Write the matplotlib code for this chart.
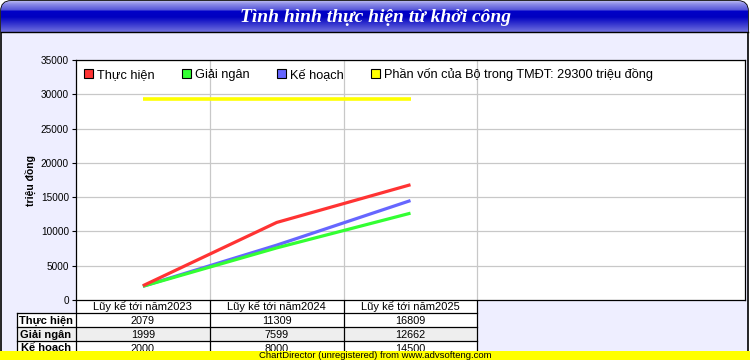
import numpy as np
import matplotlib
matplotlib.use("Agg")
import matplotlib.pyplot as plt
from matplotlib.patches import FancyBboxPatch, Rectangle, Patch
from matplotlib.colors import to_rgb

categories = ["Lũy kế tới năm2023", "Lũy kế tới năm2024", "Lũy kế tới năm2025"]
thuc_hien = [2079, 11309, 16809]
giai_ngan = [1999, 7599, 12662]
ke_hoach = [2000, 8000, 14500]
phan_von = [29300, 29300, 29300]
row_names = ["Thực hiện", "Giải ngân", "Kế hoạch"]
legend_von = "Phần vốn của Bộ trong TMĐT: 29300 triệu đồng"
title = "Tình hình thực hiện từ khởi công"
yticks = [0, 5000, 10000, 15000, 20000, 25000, 30000, 35000]

plt.rcParams['font.family'] = ['Liberation Sans', 'DejaVu Sans']

W, H = 750, 360
fig = plt.figure(figsize=(7.5, 3.6), dpi=100, facecolor="white")

# background canvas in pixel coords
bg = fig.add_axes([0, 0, 1, 1], zorder=0)
bg.set_xlim(0, W)
bg.set_ylim(H, 0)
bg.axis("off")

frame = FancyBboxPatch((1, 1), 747, 420, boxstyle="round,pad=0,rounding_size=10",
                       facecolor="#eeeeff", edgecolor="black", lw=1.2)
bg.add_patch(frame)

# title bar gradient (glossy)
stops = [(0, "#202080"), (1.5, "#b0b0f0"), (4, "#8c8ce8"), (10, "#5454d8"),
         (11, "#0000c8"), (17, "#0000c0"), (31, "#6a6adc")]
ys = np.arange(32) + 0.5
grad = np.zeros((32, 1, 3))
for c in range(3):
    grad[:, 0, c] = np.interp(ys, [s[0] for s in stops], [to_rgb(s[1])[c] for s in stops])
im = bg.imshow(grad, extent=(0, W, 32, 0), aspect="auto", zorder=1,
               interpolation="nearest")
im.set_clip_path(frame)
bg.plot([1, 748], [32, 32], color="black", lw=1, zorder=2)
bg.text(375, 17, title, color="white", fontsize=14, fontweight="bold", style="italic",
        family=["Liberation Serif", "DejaVu Serif"], ha="center", va="center", zorder=3)

# plot area
x0, x1, ytop, ybot = 76, 745, 60, 300
ax = fig.add_axes([x0 / W, (H - ybot) / H, (x1 - x0) / W, (ybot - ytop) / H], zorder=2)
ax.set_facecolor("white")
xs = np.arange(len(categories))
ax.set_xlim(-0.5, 4.5)
ax.set_ylim(0, 35000)
ax.set_yticks(yticks)
ax.set_yticklabels([str(v) for v in yticks], fontsize=7.2)
ax.tick_params(axis="y", length=3, width=0.8, pad=2)
ax.set_xticks([])
for v in yticks[1:]:
    ax.axhline(v, color="#c8c8c8", lw=0.9, zorder=0)
for b in [0.5, 1.5, 2.5]:
    ax.axvline(b, color="#c8c8c8", lw=0.9, zorder=0)
for s in ax.spines.values():
    s.set_linewidth(0.9)

ax.plot(xs, phan_von, color="#ffff00", lw=2.6, solid_capstyle="butt", zorder=2)
ax.plot(xs, ke_hoach, color="#6666ff", lw=2.3, solid_capstyle="butt", zorder=3)
ax.plot(xs, giai_ngan, color="#33ff33", lw=2.3, solid_capstyle="butt", zorder=4)
ax.plot(xs, thuc_hien, color="#ff3333", lw=2.3, solid_capstyle="butt", zorder=5)

handles = [Patch(facecolor=c, edgecolor="black", lw=0.8) for c in
           ["#ff3333", "#33ff33", "#6666ff", "#ffff00"]]
ax.legend(handles, row_names + [legend_von], loc="upper left", ncol=4, frameon=False,
          bbox_to_anchor=(8 / 669, 1 - 8 / 240), borderaxespad=0, borderpad=0,
          handlelength=0.72, handleheight=0.72, handletextpad=0.33,
          columnspacing=2.1, fontsize=9.2)

bg.text(30, 180, "triệu đồng", rotation=90, fontsize=7.5, fontweight="bold",
        ha="center", va="center")

# data table under the chart
slot = (x1 - x0) / 5
cols = [x0 + i * slot for i in range(len(categories) + 1)]
rows_y = [300, 313, 327, 341, 355]
bg.add_patch(Rectangle((cols[0], rows_y[0]), cols[-1] - cols[0], rows_y[1] - rows_y[0],
                       facecolor="white", edgecolor="none", zorder=1))
for i, cat in enumerate(categories):
    bg.text((cols[i] + cols[i + 1]) / 2, (rows_y[0] + rows_y[1]) / 2 + 0.5, cat,
            fontsize=8, ha="center", va="center", zorder=3)
series = [thuc_hien, giai_ngan, ke_hoach]
for r, (name, vals) in enumerate(zip(row_names, series)):
    ya, yb = rows_y[r + 1], rows_y[r + 2]
    fc = "#eeeeee" if r == 1 else "white"
    bg.add_patch(Rectangle((17, ya), cols[-1] - 17, yb - ya, facecolor=fc,
                           edgecolor="none", zorder=1))
    bg.text(46, (ya + yb) / 2 + 0.5, name, fontsize=8, fontweight="bold",
            ha="center", va="center", zorder=3)
    for i, v in enumerate(vals):
        bg.text((cols[i] + cols[i + 1]) / 2, (ya + yb) / 2 + 0.5, str(v), fontsize=7.8,
                ha="center", va="center", zorder=3)
for yy in rows_y[1:]:
    bg.plot([17, cols[-1]], [yy, yy], color="black", lw=0.9, zorder=2)
for xx in [17] + cols:
    top = rows_y[1] if xx == 17 else rows_y[0]
    bg.plot([xx, xx], [top, rows_y[-1]], color="black", lw=0.9, zorder=2)

# watermark bar
bg.add_patch(Rectangle((0, 351), W, 9, facecolor="#ffff00", edgecolor="none", zorder=5))
bg.text(375, 356, "ChartDirector (unregistered) from www.advsofteng.com", fontsize=6.8,
        ha="center", va="center", zorder=6)

fig.savefig("out.png", dpi=100, facecolor="white")
